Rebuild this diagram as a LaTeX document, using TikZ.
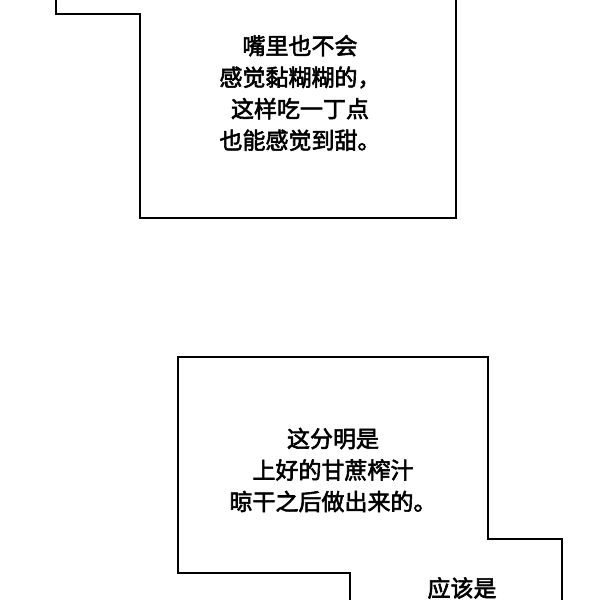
\documentclass[tikz,border=0pt]{standalone}
\usepackage{fontspec}
\newfontfamily\cjk{Noto Sans CJK SC}[AutoFakeBold=2.5]
\begin{document}
\begin{tikzpicture}[x=1pt,y=-1pt,
  box/.style={draw=black,line width=2pt,fill=white},
  txt/.style={font=\cjk\bfseries\fontsize{23}{31.5}\selectfont,align=center,text=black}]
\useasboundingbox[fill=white] (0,0) rectangle (600,600);
\draw[box] (56,-2) -- (56,14) -- (140,14) -- (140,218) -- (456,218) -- (456,-2);
\draw[box] (350,602) -- (350,573) -- (178,573) -- (178,357) -- (488,357) -- (488,539) -- (562,539) -- (562,602);
\node[txt] (t1) at (300,93) {嘴里也不会\\感觉黏糊糊的，\\这样吃一丁点\\也能感觉到甜。};
\node[txt] (t2) at (333,470) {这分明是\\上好的甘蔗榨汁\\晾干之后做出来的。};
\node[txt] (t3) at (462,588) {应该是};
\end{tikzpicture}
\end{document}
